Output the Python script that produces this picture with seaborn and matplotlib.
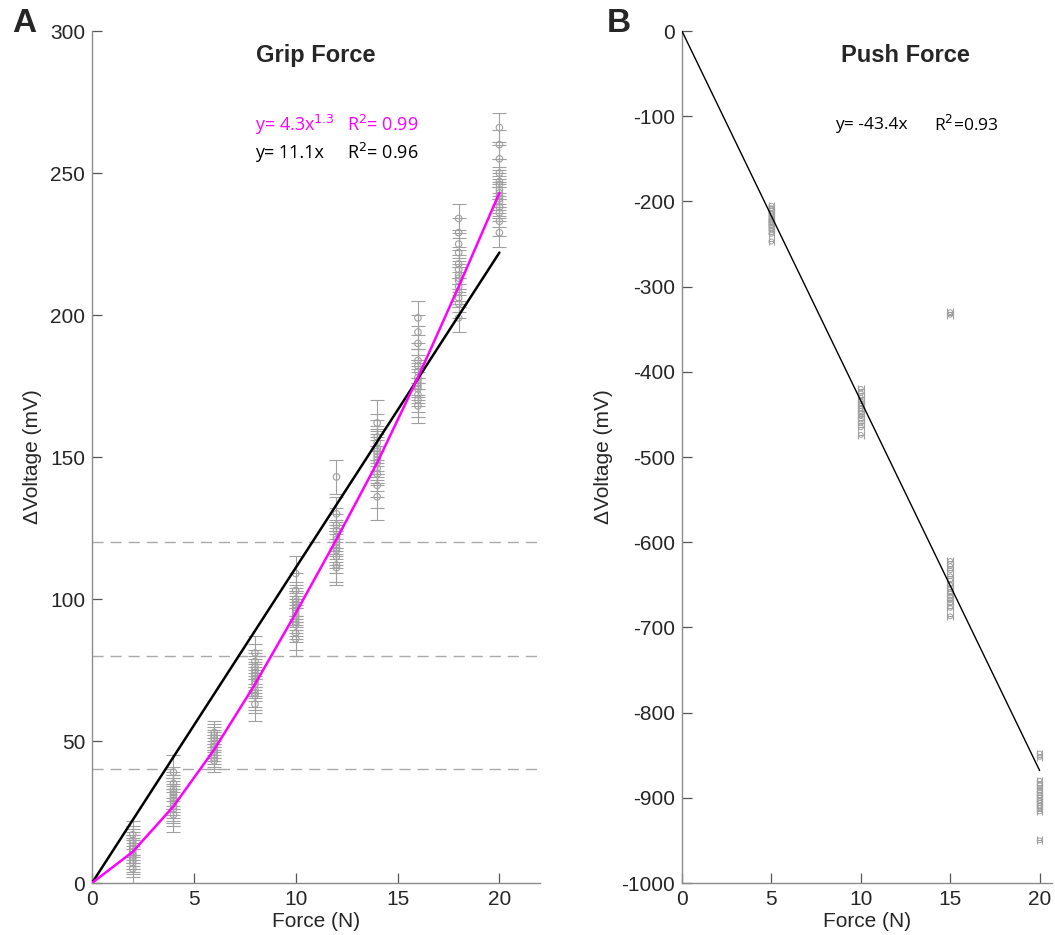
import numpy as np
import pandas as pd
import seaborn as sns
import matplotlib.pyplot as plt

# --- Grip force data (mV) per applied force (N) ---
grip_force = [2, 4, 6, 8, 10, 12, 14, 16, 18, 20]
grip_values = [
    [5, 7, 8, 9, 10, 10, 11, 12, 12, 13, 14, 15, 17],
    [24, 26, 27, 28, 29, 30, 31, 31, 32, 32, 33, 35, 39],
    [43, 44, 45, 46, 47, 48, 48, 49, 50, 51, 52, 53],
    [63, 66, 67, 68, 70, 71, 72, 73, 74, 75, 76, 78, 81],
    [86, 88, 91, 92, 93, 94, 95, 96, 97, 98, 99, 100, 103, 109],
    [111, 112, 115, 117, 118, 119, 120, 121, 122, 124, 126, 130, 143],
    [136, 140, 144, 146, 148, 149, 150, 151, 152, 153, 155, 157, 162],
    [168, 170, 172, 174, 175, 176, 177, 178, 180, 182, 184, 190, 194, 199],
    [199, 204, 206, 208, 210, 212, 213, 214, 216, 218, 222, 225, 229, 234],
    [229, 233, 236, 238, 240, 241, 242, 243, 244, 246, 247, 250, 255, 260, 266],
]
grip_err = [5, 6, 4, 6, 6, 6, 8, 6, 5, 5]

# fitted curves
fit_x = [0, 2, 4, 6, 8, 10, 12, 14, 16, 18, 20]
power_fit = [0, 11, 27, 47, 70, 95, 121, 148, 178, 210, 243]
linear_fit_x = [0, 20]
linear_fit = [0, 222]
guide_levels = [40, 80, 120]

# --- Push force data (mV) ---
push_force = [5, 10, 15, 20]
push_values = [
    [-205, -208, -211, -214, -217, -220, -222, -224, -226, -228, -231, -234, -238, -247],
    [-420, -425, -430, -434, -437, -440, -443, -446, -449, -452, -456, -460, -465, -474],
    [-330, -333, -622, -628, -633, -640, -645, -650, -655, -660, -664, -668, -672, -677, -687],
    [-848, -852, -880, -885, -889, -893, -897, -900, -903, -906, -909, -912, -916, -950],
]
push_xerr = 0.16
push_fit_x = [0, 20]
push_fit = [0, -868]

sns.set_theme(style="ticks")
plt.rcParams['font.family'] = ['Liberation Sans', 'DejaVu Sans']
plt.rcParams['axes.unicode_minus'] = False

grip_df = pd.DataFrame(
    [(f, v, e) for f, vals, e in zip(grip_force, grip_values, grip_err) for v in vals],
    columns=['force', 'voltage', 'err'])
push_df = pd.DataFrame(
    [(f, v) for f, vals in zip(push_force, push_values) for v in vals],
    columns=['force', 'voltage'])

fig = plt.figure(figsize=(10.55, 9.35), dpi=100)
ax1 = fig.add_axes([0.0872, 0.0556, 0.4248, 0.9112])
ax2 = fig.add_axes([0.6464, 0.0556, 0.3509, 0.9112])

GREY = '#8c8c8c'
EQ_FONT = ['Open Sans', 'DejaVu Sans']

# ---------------- Panel A ----------------
for lvl in guide_levels:
    ax1.axhline(lvl, color='#aaaaaa', lw=1, ls=(0, (8, 5)), zorder=1)
ax1.errorbar(grip_df['force'], grip_df['voltage'], yerr=grip_df['err'],
             fmt='none', ecolor='#a0a0a0', elinewidth=0.8, capsize=5, capthick=0.8, zorder=2)
sns.scatterplot(data=grip_df, x='force', y='voltage', ax=ax1, marker='o', s=22,
                facecolors='none', edgecolor='#a0a0a0', linewidth=0.8, zorder=3)
sns.lineplot(x=linear_fit_x, y=linear_fit, ax=ax1, color='black', lw=1.8, zorder=4)
sns.lineplot(x=fit_x, y=power_fit, ax=ax1, color='#ff00ff', lw=1.8, zorder=5)

ax1.set_xlim(0, 22)
ax1.set_ylim(0, 300)
ax1.set_xticks([0, 5, 10, 15, 20])
ax1.set_yticks(range(0, 301, 50))
ax1.set_xlabel('Force (N)', fontsize=15, labelpad=2)
ax1.set_ylabel('ΔVoltage (mV)', fontsize=15, labelpad=6)
ax1.text(0.5, 0.985, 'Grip Force', transform=ax1.transAxes, ha='center', va='top',
         fontsize=17, fontweight='bold')
ax1.text(8.0, 267, 'y= 4.3x$^{1.3}$', color='#ff00ff', fontsize=13, family=EQ_FONT, va='center')
ax1.text(12.5, 267, 'R$^2$= 0.99', color='#ff00ff', fontsize=13, family=EQ_FONT, va='center')
ax1.text(8.0, 257, 'y= 11.1x', color='black', fontsize=13, family=EQ_FONT, va='center')
ax1.text(12.5, 257, 'R$^2$= 0.96', color='black', fontsize=13, family=EQ_FONT, va='center')

# ---------------- Panel B ----------------
ax2.errorbar(push_df['force'], push_df['voltage'], xerr=push_xerr,
             fmt='none', ecolor='#a0a0a0', elinewidth=0.8, capsize=3, capthick=0.8, zorder=2)
sns.scatterplot(data=push_df, x='force', y='voltage', ax=ax2, marker='o', s=12,
                facecolors='none', edgecolor='#a0a0a0', linewidth=0.7, zorder=3)
sns.lineplot(x=push_fit_x, y=push_fit, ax=ax2, color='black', lw=1.0, zorder=4)

ax2.set_xlim(0, 20.7)
ax2.set_ylim(-1000, 0)
ax2.set_xticks([0, 5, 10, 15, 20])
ax2.set_yticks(range(-1000, 1, 100))
ax2.set_xlabel('Force (N)', fontsize=15, labelpad=2)
ax2.set_ylabel('ΔVoltage (mV)', fontsize=15, labelpad=6)
ax2.text(0.605, 0.985, 'Push Force', transform=ax2.transAxes, ha='center', va='top',
         fontsize=17, fontweight='bold')
ax2.text(8.55, -110, 'y= -43.4x', color='black', fontsize=12.5, family=EQ_FONT, va='center')
ax2.text(14.1, -110, 'R$^2$=0.93', color='black', fontsize=12.5, family=EQ_FONT, va='center')

for ax in (ax1, ax2):
    sns.despine(ax=ax)
    for sp in ('left', 'bottom'):
        ax.spines[sp].set_color(GREY)
        ax.spines[sp].set_linewidth(1.0)
    ax.tick_params(direction='in', length=7, width=0.9, color='#555555',
                   labelsize=15, pad=5)

fig.text(0.012, 0.975, 'A', fontsize=24, fontweight='bold', va='center')
fig.text(0.575, 0.975, 'B', fontsize=24, fontweight='bold', va='center')

fig.savefig('out.png', dpi=100)
